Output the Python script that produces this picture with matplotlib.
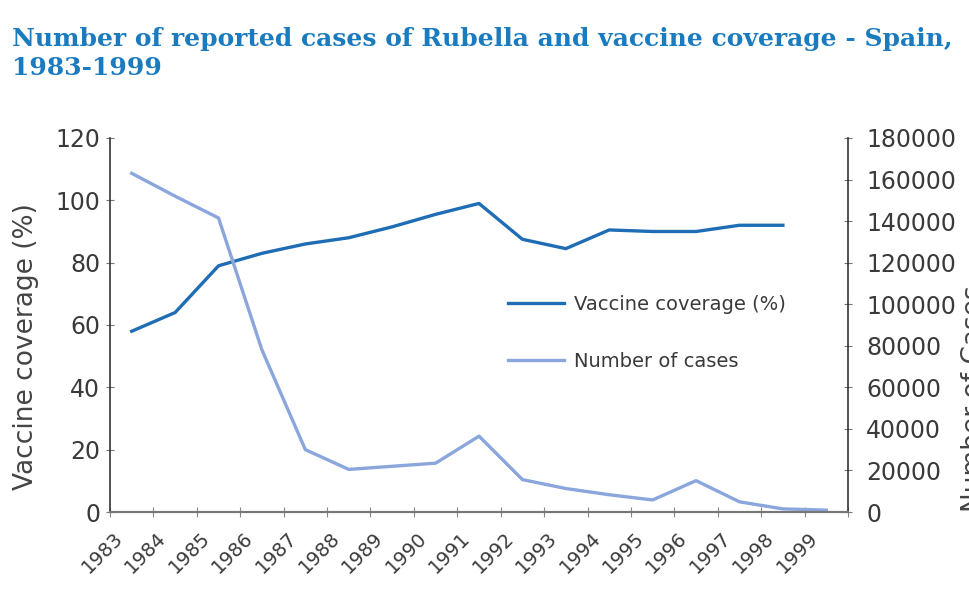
import numpy as np
import matplotlib
matplotlib.use("Agg")
import matplotlib.pyplot as plt
import matplotlib.transforms as mtransforms

# data
years = list(range(1983, 2000))
coverage_years = list(range(1983, 1999))
coverage = [58, 64, 79, 83, 86, 88, 91.5, 95.5, 99, 87.5, 84.5, 90.5, 90, 90, 92, 92]
cases = [163000, 152000, 141500, 78000, 30000, 20500, 22000, 23500, 36500,
         15600, 11300, 8300, 5800, 15100, 4900, 1500, 900]
left_ticks = [0, 20, 40, 60, 80, 100, 120]
right_ticks = list(range(0, 180001, 20000))

dark = '#1f6db5'
light = '#8ba6dc'
txt = '#3a3a3a'

plt.rcParams['font.family'] = 'DejaVu Sans'

fig = plt.figure(figsize=(9.7, 6.09), dpi=100)
ax = fig.add_axes([110/970, 1-512/609, (848-110)/970, (512-138)/609])
ax2 = ax.twinx()

xi = {y: i for i, y in enumerate(years)}
l1, = ax.plot([xi[y] for y in coverage_years], coverage, color=dark, lw=2.4,
              label='Vaccine coverage (%)')
l2, = ax2.plot([xi[y] for y in years], cases, color=light, lw=2.4,
               label='Number of cases')

ax.set_xlim(-0.5, len(years) - 0.5)
ax.set_ylim(0, 120)
ax2.set_ylim(0, 180000)
ax.set_yticks(left_ticks)
ax2.set_yticks(right_ticks)

# tick marks at category borders, labels at centres
ax.set_xticks(np.arange(-0.5, len(years), 1.0))
ax.set_xticklabels([])
ax.set_xticks(range(len(years)), minor=True)
ax.set_xticklabels([str(y) for y in years], minor=True, rotation=45,
                   ha='right', fontsize=14, color=txt)
ax.tick_params(axis='x', which='major', direction='inout', length=7,
               color='#888888', width=0.8)
ax.tick_params(axis='x', which='minor', length=0, pad=12)
off = mtransforms.ScaledTranslation(-5/100, 0, fig.dpi_scale_trans)
for lab in ax.get_xticklabels(minor=True):
    lab.set_transform(lab.get_transform() + off)

ax.tick_params(axis='y', direction='inout', length=6, width=0.8,
               color='#777777', labelsize=17, labelcolor=txt, pad=4)
ax2.tick_params(axis='y', direction='inout', length=6, width=0.8,
                color='#777777', labelsize=17, labelcolor=txt, pad=10)

for a in (ax, ax2):
    a.spines['top'].set_visible(False)
    a.spines['left'].set_color('#333333')
    a.spines['right'].set_color('#333333')
    a.spines['bottom'].set_color('#777777')
    a.spines['left'].set_linewidth(1.2)
    a.spines['right'].set_linewidth(1.2)
    a.spines['bottom'].set_linewidth(1.5)
ax2.spines['left'].set_visible(False)
ax.spines['right'].set_visible(False)

fig.legend(handles=[l1, l2], loc='upper left',
           bbox_to_anchor=(508/970, 1-295/609), frameon=False,
           fontsize=14, handlelength=2.9, handletextpad=0.5,
           labelspacing=1.95, borderpad=0, borderaxespad=0, labelcolor=txt)

fig.text(26/970, 1-347/609, 'Vaccine coverage (%)', rotation=90,
         ha='center', va='center', fontsize=19, color='#444444')
# the reference crops this label at the right edge
fig.text(961/970, 1-512/609, 'Number of Cases', rotation=90,
         ha='left', va='bottom', fontsize=19, color='#444444')

fig.text(12/970, 1-27/609,
         'Number of reported cases of Rubella and vaccine coverage - Spain,\n1983-1999',
         ha='left', va='top', fontsize=18, fontweight='bold',
         family='DejaVu Serif', color='#1b7bbf', linespacing=1.25)

fig.savefig('out.png', dpi=100)
